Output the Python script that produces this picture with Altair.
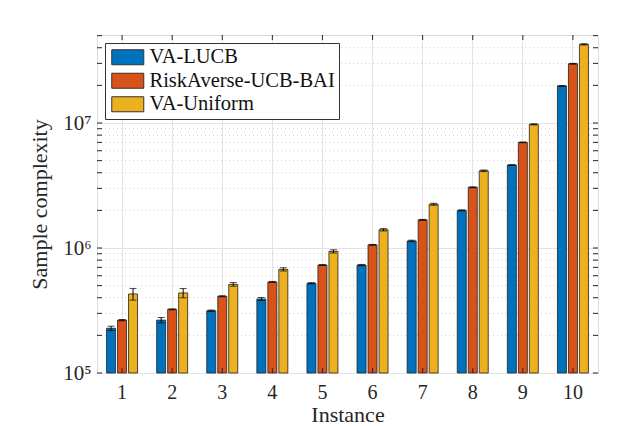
import altair as alt
import pandas as pd

instances = [1, 2, 3, 4, 5, 6, 7, 8, 9, 10]
series_names = ["VA-LUCB", "RiskAverse-UCB-BAI", "VA-Uniform"]
colors = ["#0072BD", "#D95319", "#EDB120"]

va_lucb = [2.28e5, 2.65e5, 3.15e5, 3.91e5, 5.22e5, 7.31e5, 1.14e6, 2.00e6, 4.61e6, 1.98e7]
risk_averse = [2.65e5, 3.23e5, 4.11e5, 5.35e5, 7.31e5, 1.06e6, 1.68e6, 3.06e6, 7.00e6, 2.98e7]
va_uniform = [4.29e5, 4.37e5, 5.12e5, 6.75e5, 9.40e5, 1.40e6, 2.24e6, 4.15e6, 9.76e6, 4.26e7]

err_lucb = [9e3, 1.3e4, 4e3, 1.1e4, 6e3, 8e3, 1.5e4, 2e4, 4e4, 1.5e5]
err_risk = [3e3, 3e3, 4e3, 5e3, 6e3, 8e3, 1.5e4, 2.5e4, 5e4, 2e5]
err_unif = [4.6e4, 3.7e4, 1.7e4, 2e4, 2.8e4, 3e4, 4e4, 6e4, 1e5, 5e5]

major_ticks = [1e5, 1e6, 1e7]
minor_ticks = [2e5, 3e5, 4e5, 5e5, 6e5, 7e5, 8e5, 9e5,
               2e6, 3e6, 4e6, 5e6, 6e6, 7e6, 8e6, 9e6,
               2e7, 3e7, 4e7, 5e7]
y_domain = [1e5, 5.06e7]
y_base = 1e5

W, H = 501, 338
FONT = "Liberation Serif"
AX = "#262626"

rows = []
for name, vals, errs in zip(series_names, [va_lucb, risk_averse, va_uniform],
                            [err_lucb, err_risk, err_unif]):
    for i, v, e in zip(instances, vals, errs):
        rows.append({"inst": i, "series": name, "value": v, "lo": v - e, "hi": v + e})
df = pd.DataFrame(rows)

ticks_df = pd.DataFrame({"tv": major_ticks + minor_ticks})
minor_df = pd.DataFrame({"tv": minor_ticks})
inst_df = pd.DataFrame({"inst": instances})

xscale = alt.Scale(paddingInner=0, paddingOuter=0)
yscale = alt.Scale(type="log", domain=y_domain, nice=False)
xoff = alt.XOffset("series:N", sort=series_names,
                   scale=alt.Scale(paddingInner=0.18, paddingOuter=0.87))

x_axis = alt.Axis(title="Instance", labelAngle=0, ticks=False, domain=False,
                  grid=True, gridColor="#e3e3e3", gridWidth=1,
                  labelFont=FONT, labelFontSize=20, labelColor=AX, labelPadding=9,
                  titleFont=FONT, titleFontSize=22, titleFontWeight="normal",
                  titleColor=AX, titlePadding=2)
y_axis = alt.Axis(title="Sample complexity", values=major_ticks, ticks=False, domain=False,
                  grid=True, gridColor="#e3e3e3", gridWidth=1,
                  labelExpr="datum.value == 100000 ? '10⁵' : datum.value == 1000000 ? '10⁶' : '10⁷'",
                  labelFont=FONT, labelFontSize=21, labelColor=AX, labelPadding=6,
                  titleFont=FONT, titleFontSize=22, titleFontWeight="normal",
                  titleColor=AX, titlePadding=11)

minor_grid = alt.Chart(minor_df).mark_rule(color="#cfcfcf", strokeDash=[1, 3], strokeWidth=1).encode(
    y=alt.Y("tv:Q", scale=yscale, axis=y_axis),
    x=alt.value(0), x2=alt.value(W))

bars = alt.Chart(df).mark_bar(stroke="#1f1f1f", strokeWidth=0.8).encode(
    x=alt.X("inst:O", scale=xscale, axis=x_axis),
    xOffset=xoff,
    y=alt.Y("value:Q", scale=yscale, axis=y_axis),
    y2=alt.datum(y_base),
    color=alt.Color("series:N", sort=series_names,
                    scale=alt.Scale(domain=series_names, range=colors),
                    legend=alt.Legend(title=None, orient="top-left", offset=8,
                                      labelFont=FONT, labelFontSize=20.5, labelColor="#111",
                                      symbolType="M-1,-1H3.27V1H-1Z", symbolSize=225,
                                      symbolStrokeColor="#333", symbolStrokeWidth=1,
                                      symbolOpacity=1, labelOffset=20, rowPadding=2.5,
                                      padding=4, strokeColor="#333", fillColor="white",
                                      labelLimit=400)),
)

err_rule = alt.Chart(df).mark_rule(color="black", strokeWidth=1).encode(
    x=alt.X("inst:O", scale=xscale), xOffset=xoff,
    y=alt.Y("lo:Q", scale=yscale), y2="hi:Q")
cap_hi = alt.Chart(df).mark_tick(color="black", size=7, thickness=1).encode(
    x=alt.X("inst:O", scale=xscale), xOffset=xoff,
    y=alt.Y("hi:Q", scale=yscale))
cap_lo = alt.Chart(df).mark_tick(color="black", size=7, thickness=1).encode(
    x=alt.X("inst:O", scale=xscale), xOffset=xoff,
    y=alt.Y("lo:Q", scale=yscale))

ytick_l = alt.Chart(ticks_df).mark_rule(color=AX, strokeWidth=1).encode(
    y=alt.Y("tv:Q", scale=yscale), x=alt.value(0), x2=alt.value(5))
ytick_r = alt.Chart(ticks_df).mark_rule(color=AX, strokeWidth=1).encode(
    y=alt.Y("tv:Q", scale=yscale), x=alt.value(W - 5), x2=alt.value(W))
xtick_t = alt.Chart(inst_df).mark_rule(color=AX, strokeWidth=1).encode(
    x=alt.X("inst:O", scale=xscale), y=alt.value(0), y2=alt.value(5))
xtick_b = alt.Chart(inst_df).mark_rule(color=AX, strokeWidth=1).encode(
    x=alt.X("inst:O", scale=xscale), y=alt.value(H - 5), y2=alt.value(H))

chart = alt.layer(minor_grid, bars, err_rule, cap_hi, cap_lo,
                  ytick_l, ytick_r, xtick_t, xtick_b).properties(
    width=W, height=H,
    padding={"left": 89, "top": 27, "right": 26, "bottom": 52},
    autosize=alt.AutoSizeParams(type="none"),
).configure_view(stroke=AX, strokeWidth=1).configure(background="white")

chart.save("out.html", embed_options={"renderer": "svg", "actions": False})
